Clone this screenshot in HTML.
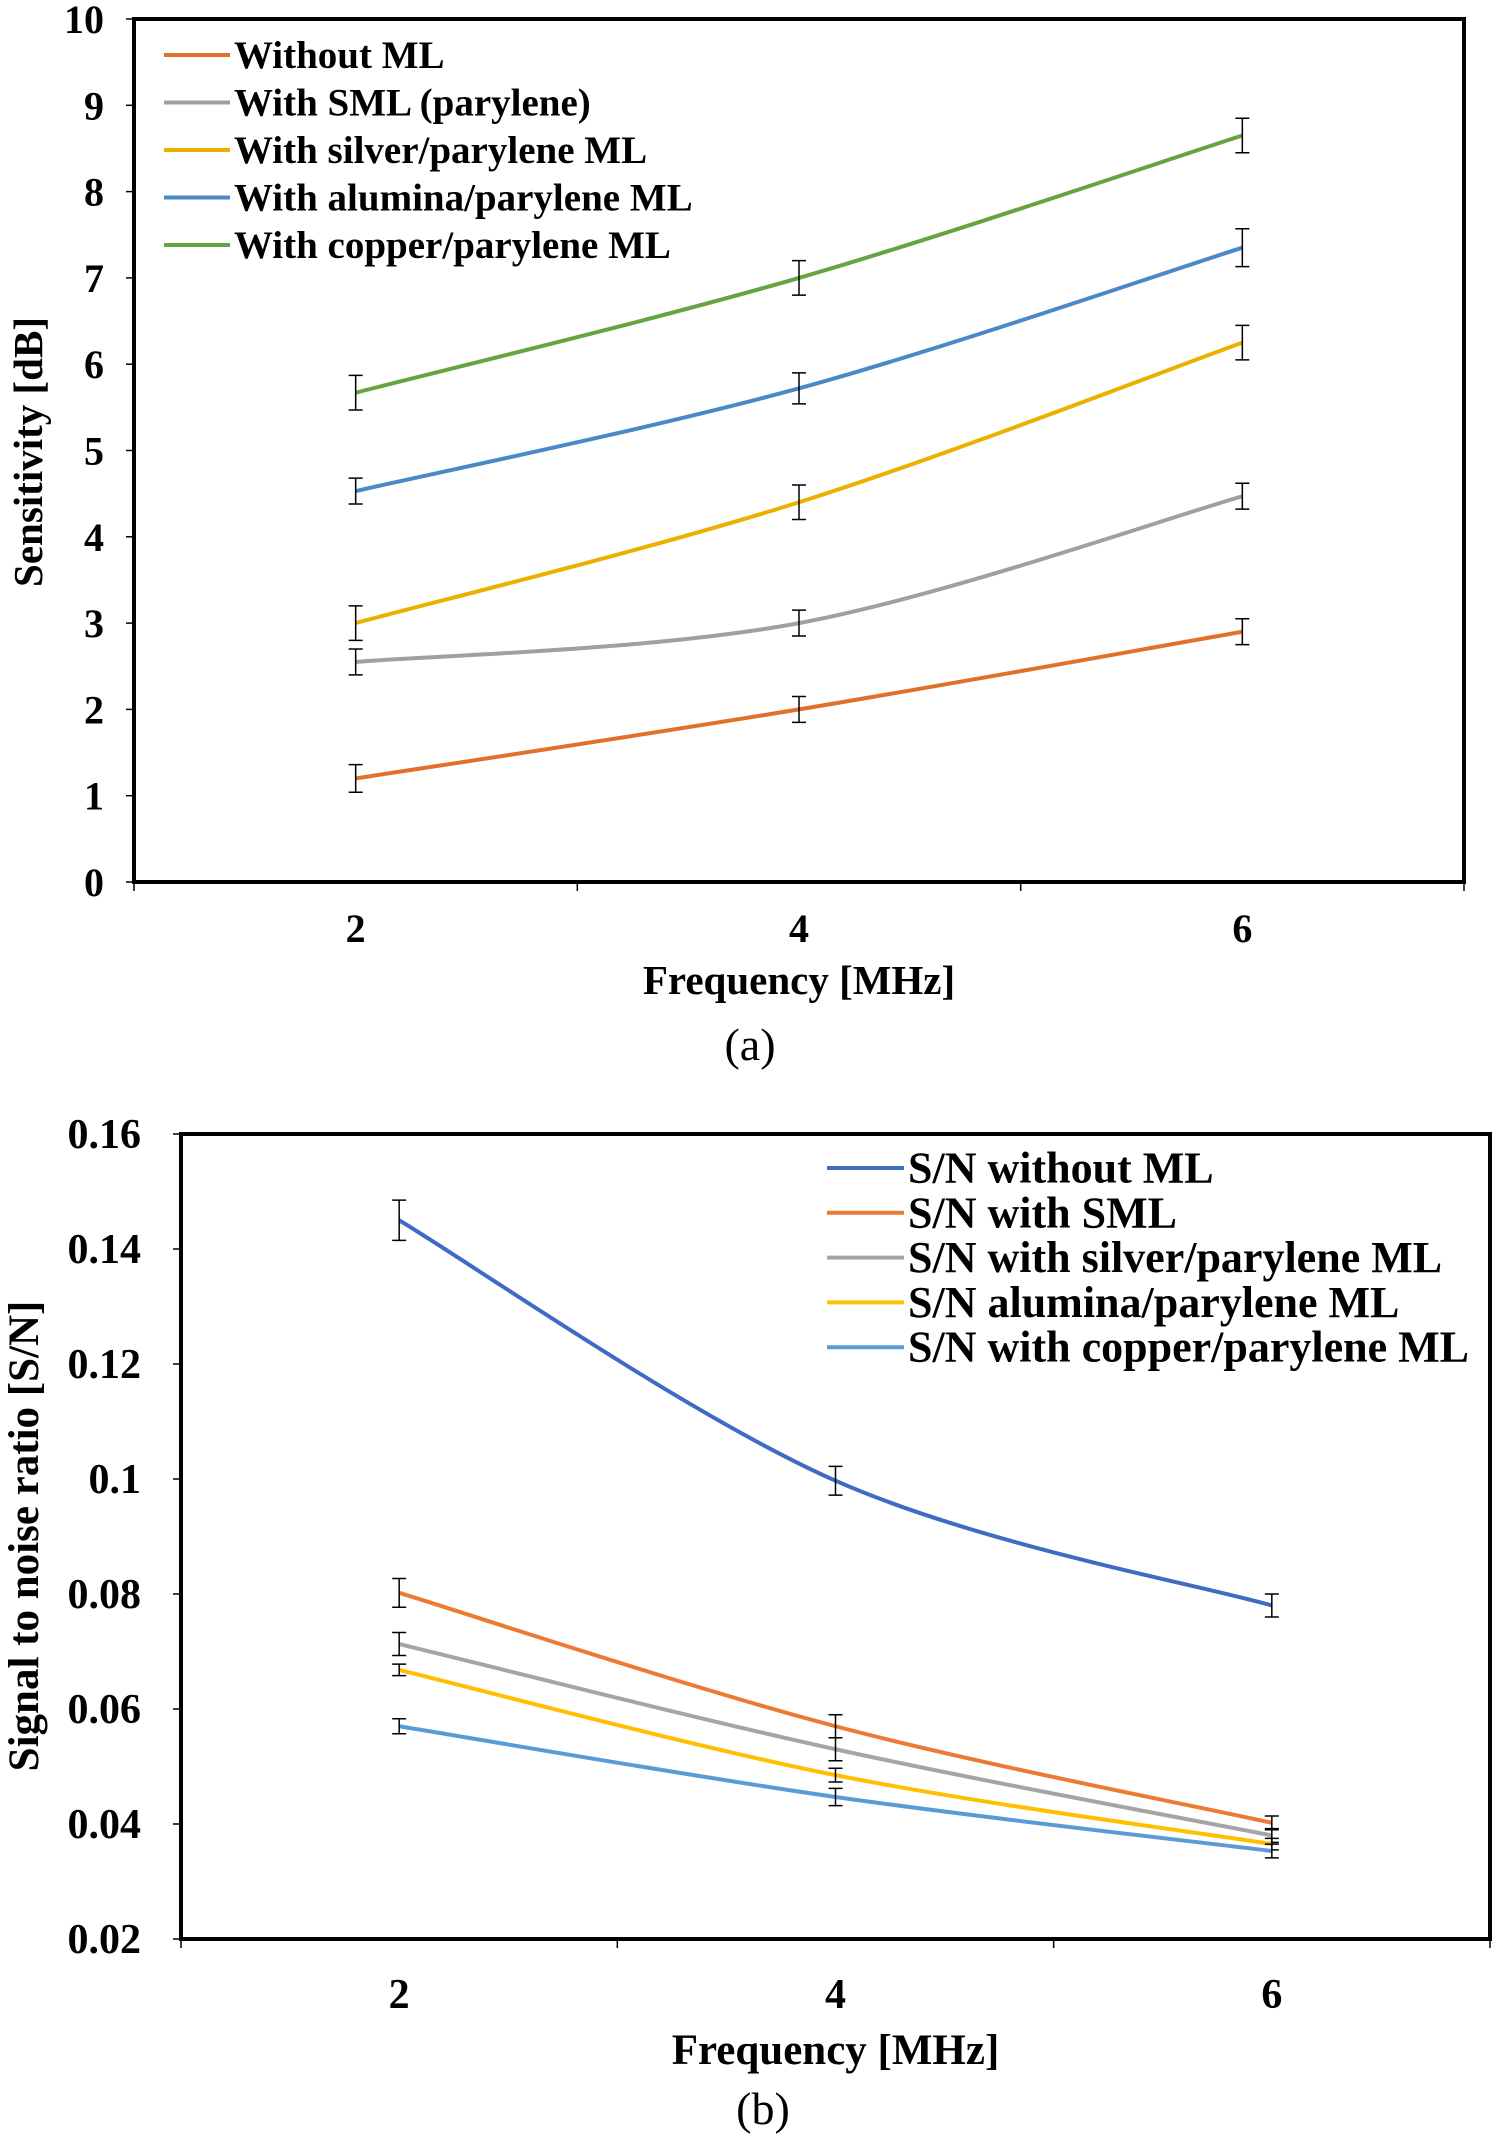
<!DOCTYPE html>
<html><head><meta charset="utf-8"><style>
html,body{margin:0;padding:0;background:#fff}
svg{display:block}
text{font-family:"Liberation Serif","Times New Roman",serif;font-weight:bold;fill:#000}
</style></head><body>
<svg id="svg" width="1499" height="2138" viewBox="0 0 1499 2138"></svg>
<script>
const NS='http://www.w3.org/2000/svg';
const svg=document.getElementById('svg');

// Chart A data
const catsA=['2','4','6'];
const yTicksA=[0,1,2,3,4,5,6,7,8,9,10];
const namesA=['Without ML','With SML (parylene)','With silver/parylene ML','With alumina/parylene ML','With copper/parylene ML'];
const withoutA=[1.2,2.0,2.9];
const smlA=[2.55,3.0,4.47];
const silverA=[3.0,4.4,6.25];
const aluminaA=[4.53,5.72,7.35];
const copperA=[5.67,7.0,8.65];
const errWithoutA=[0.16,0.15,0.15];
const errSmlA=[0.15,0.15,0.15];
const errSilverA=[0.2,0.2,0.2];
const errAluminaA=[0.15,0.18,0.22];
const errCopperA=[0.2,0.2,0.2];

// Chart B data
const catsB=['2','4','6'];
const yTicksB=[0.02,0.04,0.06,0.08,0.1,0.12,0.14,0.16];
const yTickLabelsB=['0.02','0.04','0.06','0.08','0.1','0.12','0.14','0.16'];
const namesB=['S/N without ML','S/N with SML','S/N with silver/parylene ML','S/N alumina/parylene ML','S/N with copper/parylene ML'];
const withoutB=[0.145,0.0997,0.078];
const smlB=[0.0802,0.057,0.0402];
const silverB=[0.0713,0.053,0.038];
const aluminaB=[0.0668,0.0485,0.0365];
const copperB=[0.057,0.0447,0.0353];
const errWithoutB=[0.0035,0.0025,0.002];
const errSmlB=[0.0025,0.002,0.0012];
const errSilverB=[0.002,0.002,0.0012];
const errAluminaB=[0.001,0.0012,0.001];
const errCopperB=[0.0013,0.0015,0.0012];

function el(tag,attrs,parent){const e=document.createElementNS(NS,tag);for(const k in attrs)e.setAttribute(k,attrs[k]);(parent||svg).appendChild(e);return e;}

function spline(pts){
  let d='M'+pts[0][0]+','+pts[0][1];
  for(let i=0;i<pts.length-1;i++){
    const p0=pts[i-1]||pts[i],p1=pts[i],p2=pts[i+1],p3=pts[i+2]||p2;
    const t=1/6;
    const c1=[p1[0]+(p2[0]-p0[0])*t,p1[1]+(p2[1]-p0[1])*t];
    const c2=[p2[0]-(p3[0]-p1[0])*t,p2[1]-(p3[1]-p1[1])*t];
    d+=' C'+c1+' '+c2+' '+p2;
  }
  return d;
}

function chart(o){
  const g=el('g',{});
  
  
  const {L,R,T,B,ymin,ymax}=o;
  const n=o.cats.length;
  const bw=(R-L)/n;
  const xs=i=>L+bw*(i+0.5);
  const ys=v=>B-(v-ymin)/(ymax-ymin)*(B-T);
  const fr=el('rect',{x:L,y:T,width:R-L,height:B-T,fill:'none',stroke:'#000','stroke-width':4},g);
  
  
  o.yTicks.forEach((v,i)=>{
    el('line',{x1:L-8,x2:L,y1:ys(v),y2:ys(v),stroke:'#000','stroke-width':1.5},g);
    const t=el('text',{x:L-(o.ylabOff),y:ys(v)+14,'text-anchor':'end','font-size':o.tickFs},g);
    t.textContent=o.yLabels[i];
    
    
  });
  for(let i=0;i<=n;i++){
    el('line',{x1:L+bw*i,x2:L+bw*i,y1:B,y2:B+9,stroke:'#000','stroke-width':1.5},g);
  }
  o.cats.forEach((c,i)=>{
    const t=el('text',{x:xs(i),y:o.xlabY,'text-anchor':'middle','font-size':o.tickFs},g);
    t.textContent=c;
    
    
  });
  const xt=el('text',{x:(L+R)/2,y:o.xtitleY,'text-anchor':'middle','font-size':o.titleFs},g);
  xt.textContent='Frequency [MHz]';
  
  
  const yt=el('text',{x:0,y:0,'text-anchor':'middle','font-size':o.titleFs,transform:`translate(${o.ytitleX},${o.ytitleY}) rotate(-90)`},g);
  yt.textContent=o.ytitle;
  
  
  o.series.forEach((s,k)=>{
    const pts=s.map((v,i)=>[xs(i),ys(v)]);
    const p=el('path',{d:spline(pts),fill:'none',stroke:o.colors[k],'stroke-width':4},g);
    
    
    s.forEach((v,i)=>{
      const e=o.errs[k][i];
      const x=xs(i),y1=ys(v+e),y2=ys(v-e);
      const eb=el('path',{d:`M${x-7},${y1}H${x+7}M${x},${y1}V${y2}M${x-7},${y2}H${x+7}`,stroke:'#000','stroke-width':1.5,fill:'none'},g);
      
      
    });
  });
  o.names.forEach((nm,k)=>{
    const y=o.legY[0]+k*o.legStep;
    const lg=el('g',{},g);
    
    
    el('line',{x1:o.legX1,x2:o.legX2,y1:y,y2:y,stroke:o.colors[k],'stroke-width':4},lg);
    const t=el('text',{x:o.legX2+4,y:y+o.legFs*0.33,'font-size':o.legFs},lg);
    t.textContent=nm;
  });
  const cap=el('text',{x:o.capX,y:o.capY,'text-anchor':'middle','font-size':46,style:'font-weight:normal'},g);
  cap.textContent=o.cap;
  
  
}

chart({name:'chart-a-sensitivity',L:134,R:1464,T:19,B:882,ymin:0,ymax:10,cats:catsA,yTicks:yTicksA,yLabels:yTicksA.map(String),
  ylabOff:30,tickFs:40,xlabY:942,xtitleY:994,titleFs:41,ytitle:'Sensitivity [dB]',ytitleX:42,ytitleY:452,
  series:[withoutA,smlA,silverA,aluminaA,copperA],errs:[errWithoutA,errSmlA,errSilverA,errAluminaA,errCopperA],
  colors:['#E0702A','#A0A0A0','#EBB000','#4A89C6','#66A343'],names:namesA,legY:[55],legStep:47.5,legX1:164,legX2:230,legFs:39,
  capX:750,capY:1060,cap:'(a)'});

chart({name:'chart-b-signal-to-noise',L:181,R:1490,T:1134,B:1939,ymin:0.02,ymax:0.16,cats:catsB,yTicks:yTicksB,yLabels:yTickLabelsB,
  ylabOff:40,tickFs:42,xlabY:2008,xtitleY:2064,titleFs:43,ytitle:'Signal to noise ratio [S/N]',ytitleX:38,ytitleY:1536,
  series:[withoutB,smlB,silverB,aluminaB,copperB],errs:[errWithoutB,errSmlB,errSilverB,errAluminaB,errCopperB],
  colors:['#3F6BC4','#EC7A32','#A5A5A5','#FFC000','#5B9BD5'],names:namesB,legY:[1168],legStep:44.8,legX1:827,legX2:904,legFs:44,
  capX:763,capY:2124,cap:'(b)'});
</script>
</body></html>
